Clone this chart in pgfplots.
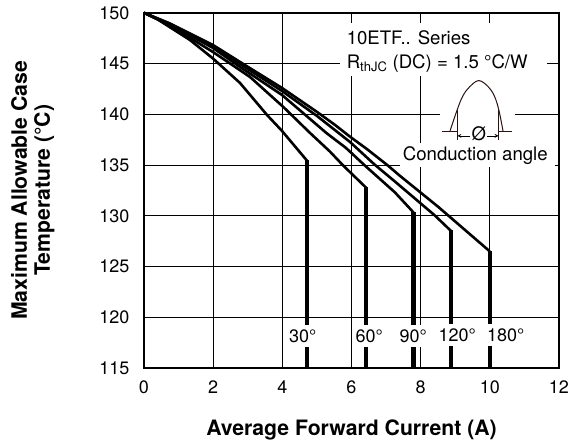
\documentclass[border=0pt]{standalone}
\usepackage{fontspec}
\setmainfont{TeX Gyre Heros}
\usepackage{pgfplots}
\pgfplotsset{compat=1.18}
\definecolor{icon}{HTML}{2A1212}
\tikzset{
  annot/.style={font=\fontsize{18.6}{20}\selectfont,inner sep=0pt},
  angle/.style={font=\fontsize{18}{20}\selectfont,anchor=base,fill=white,inner xsep=1pt,inner ysep=4.5pt},
}
\begin{document}
\begin{tikzpicture}[>=stealth]
\useasboundingbox (-144pt,-77pt) rectangle (427pt,368pt);
\begin{axis}[
  at={(0pt,0pt)},anchor=south west,
  scale only axis,width=415pt,height=355.2pt,
  xmin=0,xmax=12,ymin=115,ymax=150,
  xtick={0,2,...,12},ytick={115,120,...,150},
  major tick length=0pt,
  grid=major,
  major grid style={black,line width=1pt},
  axis line style={black,line width=2.6pt},
  clip=false,
  tick label style={font=\fontsize{18}{20}\selectfont},
  /pgf/number format/assume math mode=true,
  xticklabel style={yshift=-9pt},
  yticklabel style={xshift=-11pt},
  xlabel={Average Forward Current (A)},
  every axis x label/.style={at={(axis description cs:0.5,0)},anchor=base,yshift=-67.7pt,font=\fontsize{21.2}{24}\bfseries\selectfont},
  ylabel={Maximum Allowable Case\\Temperature (°C)},
  every axis y label/.style={at={(axis description cs:0,0.5)},rotate=90,anchor=south,align=center,yshift=86pt,font=\fontsize{21.2}{23}\bfseries\selectfont},
]
% white patches behind the annotation
\fill[white] (axis cs:5.66,149) rectangle (axis cs:11.65,143.78);
\fill[white] (axis cs:8.55,143.78) rectangle (axis cs:10.72,137.13);
\fill[white] (axis cs:7.4,137.13) rectangle (axis cs:11.88,134.83);

% 30 deg
\addplot[black,line width=2.6pt,line join=round] coordinates {
 (0,150) (0.376,149.39) (1.329,147.32) (1.994,145.5) (2.775,143.09)
 (3.555,139.94) (3.988,138.37) (4.711,135.44)};
\addplot[black,line width=3.4pt] coordinates {(4.711,135.5) (4.711,115)};
% 60 deg
\addplot[black,line width=2.6pt,line join=round] coordinates {
 (0,150) (0.751,148.75) (1.994,146.14) (3.064,143.68) (4.017,140.76)
 (4.798,138.17) (5.376,136.33) (5.76,134.95) (6.416,132.79)};
\addplot[black,line width=3.4pt] coordinates {(6.416,132.85) (6.416,115)};
% 90 deg
\addplot[black,line width=2.6pt,line join=round] coordinates {
 (0,150) (0.751,148.85) (1.994,146.54) (2.775,144.67) (3.988,141.91)
 (5.28,138.14) (5.838,136.69) (6.387,134.95) (7.254,132.31) (7.795,130.32)};
\addplot[black,line width=4.2pt] coordinates {(7.795,130.4) (7.795,115)};
% 120 deg
\addplot[black,line width=2.6pt,line join=round] coordinates {
 (0,150) (0.751,148.9) (1.994,146.68) (2.775,144.96) (3.988,142.3)
 (5,139.84) (5.954,137.28) (6.676,135.02) (7.254,133.38) (8.41,130.03) (8.887,128.47)};
\addplot[black,line width=4pt] coordinates {(8.887,128.55) (8.887,115)};
% 180 deg
\addplot[black,line width=2.6pt,line join=round] coordinates {
 (0,150) (0.751,148.95) (1.994,146.83) (2.775,145.16) (3.988,142.6)
 (5,140.24) (5.52,138.96) (5.954,137.8) (6.436,136.6) (7.052,134.95)
 (7.399,133.94) (8.497,130.91) (10,126.49)};
\addplot[black,line width=4.2pt] coordinates {(10,126.55) (10,115)};

% conduction angle sketch
\addplot[icon,line width=1pt,smooth,tension=0.6] coordinates {
 (8.844,138.3) (9.055,140.43) (9.22,141.81) (9.422,142.73) (9.682,143.32)
 (9.95,142.73) (10.13,141.81) (10.26,140.43) (10.384,138.3)};
\addplot[icon,line width=1pt] coordinates {(8.63,138.3) (9.055,138.3)};
\addplot[icon,line width=1pt] coordinates {(10.26,138.3) (10.65,138.3)};
\addplot[icon,line width=1pt] coordinates {(9.055,140.43) (9.055,137.5)};
\addplot[icon,line width=1pt] coordinates {(10.26,140.43) (10.26,137.5)};
\addplot[black,line width=0.8pt,<-] coordinates {(9.06,137.87) (9.43,137.87)};
\addplot[black,line width=0.8pt,<-] coordinates {(10.255,137.87) (9.93,137.87)};

\node[annot,anchor=base west] at (axis cs:5.858,146.9) {10ETF.. Series};
\node[annot,anchor=base west] at (axis cs:5.858,144.54) {R\textsubscript{thJC} (DC) = 1.5 °C/W};
\node[annot,anchor=base] at (axis cs:9.682,137.41) {Ø};
\node[annot,anchor=base] at (axis cs:9.58,135.41) {Conduction angle};

\node[angle] at (axis cs:4.587,117.53) {30°};
\node[angle] at (axis cs:6.512,117.53) {60°};
\node[angle] at (axis cs:7.783,117.53) {90°};
\node[angle] at (axis cs:9.055,117.63) {120°};
\node[angle] at (axis cs:10.462,117.63) {180°};
\end{axis}
\end{tikzpicture}
\end{document}
